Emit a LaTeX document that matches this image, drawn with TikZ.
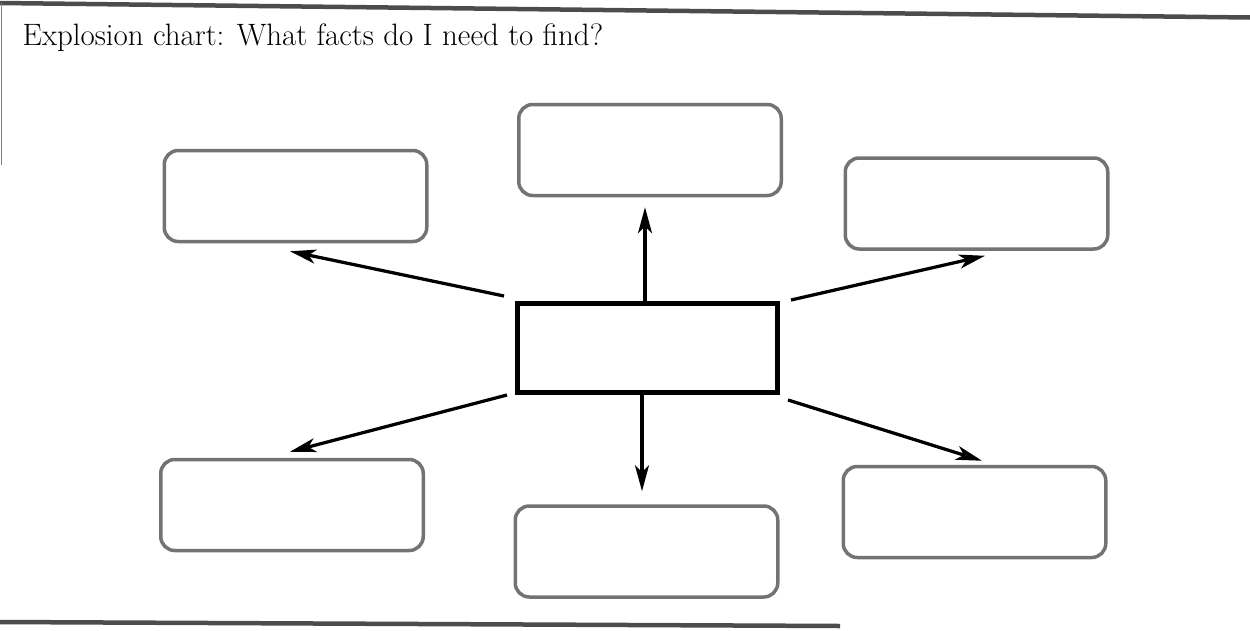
\documentclass[tikz,border=0pt]{standalone}
\usepackage{tikz}
\usetikzlibrary{calc, shapes, arrows.meta, positioning}

\begin{document}
\begin{tikzpicture}[
        fact_box/.style={rectangle, draw=black!55, line width=0.07cm, rounded corners=0.28cm, minimum width=5.25cm, minimum height=1.82cm},
        main_box/.style={rectangle, draw=black, line width=0.1cm, minimum width=5.2cm, minimum height=1.78cm},
        arrow/.style={-{Stealth[length=5.2mm, width=2.8mm, inset=1.4mm]}, line width=0.065cm},
        edge_line/.style={draw=black!70, line width=0.09cm}
    ]
    \useasboundingbox (0,0) rectangle (25,12.6);

    % page edges
    \coordinate (topL) at (0,12.54);
    \coordinate (topR) at (25,12.25);
    \coordinate (leftB) at (0.03,9.3);
    \coordinate (botL) at (0,0.16);
    \coordinate (botR) at (16.8,0.08);
    \draw[edge_line] (topL) -- (topR);
    \draw[draw=black!50, line width=0.04cm] ([xshift=0.03cm]topL) -- (leftB);
    \draw[edge_line] (botL) -- (botR);

    \node[anchor=base west, font=\fontsize{17.6}{20}\selectfont] (title) at (0.33,11.7) {Explosion chart: What facts do I need to find?};

    \node[main_box] (mid) at (12.95,5.64) {};

    \node[fact_box] (tl) at (5.91,8.68) {};
    \node[fact_box] (tc) at (13.0,9.6) {};
    \node[fact_box] (tr) at (19.53,8.53) {};
    \node[fact_box] (bl) at (5.84,2.5) {};
    \node[fact_box] (bc) at (12.93,1.57) {};
    \node[fact_box] (br) at (19.49,2.36) {};

    \draw[arrow] ([shift={(-0.22,0.1)}]mid.north west) -- ([shift={(-0.11,-0.16)}]tl.south);
    \draw[arrow] ([xshift=-0.05cm]mid.north) -- ($(mid.north |- tc.south)+(-0.05,-0.2)$);
    \draw[arrow] ([shift={(0.22,0.02)}]mid.north east) -- ([shift={(0.17,-0.1)}]tr.south);
    \draw[arrow] ([shift={(-0.16,0)}]mid.south west) -- ([shift={(-0.04,0.12)}]bl.north);
    \draw[arrow] ([xshift=-0.11cm]mid.south) -- ($(mid.south |- bc.north)+(-0.11,0.26)$);
    \draw[arrow] ([shift={(0.16,-0.1)}]mid.south east) -- ([shift={(0.15,0.08)}]br.north);
    \end{tikzpicture}
\end{document}
